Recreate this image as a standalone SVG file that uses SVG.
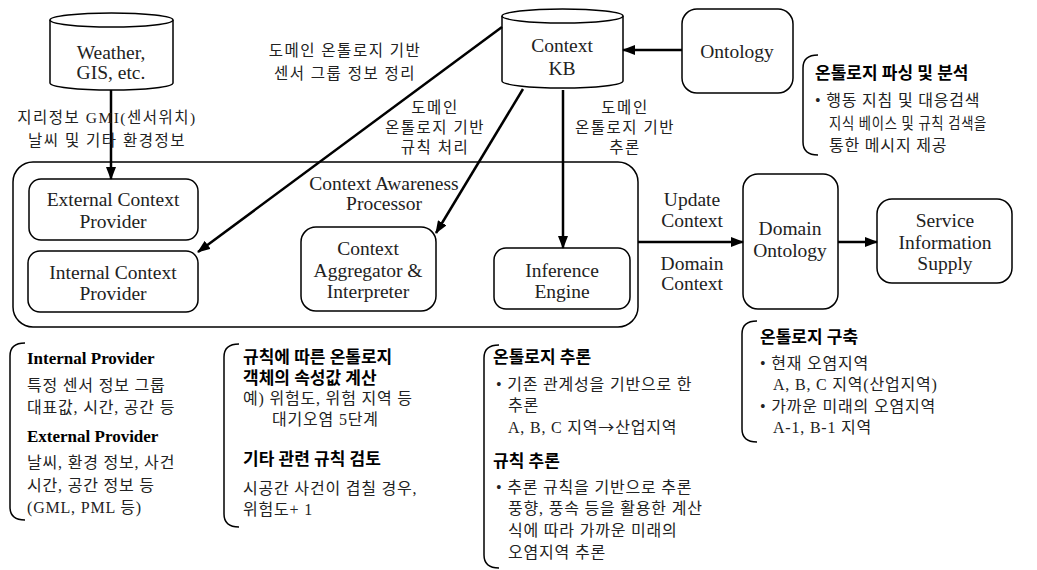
<svg xmlns="http://www.w3.org/2000/svg" width="1037" height="570" viewBox="0 0 1037 570">
<defs>
<marker id="ah" viewBox="0 0 13 10" refX="12" refY="5" markerWidth="13" markerHeight="10" markerUnits="userSpaceOnUse" orient="auto">
<path d="M0,0 L13,5 L0,10 Z" fill="#000"/>
</marker>
<style>
text{font-family:"Liberation Serif","Noto Sans CJK KR",serif;fill:#222}
.en{font-size:19.5px;text-anchor:middle}
.lbl{font-size:15.5px;text-anchor:middle;letter-spacing:1.5px}
.body{font-size:16px;letter-spacing:0.8px}
.ttl{font-size:17px;font-weight:bold;fill:#000}
.arw{font-family:"Noto Sans CJK KR",sans-serif}
.box{fill:#fff;stroke:#000;stroke-width:1.5}
.br{fill:none;stroke:#000;stroke-width:1.5}
.con{fill:none;stroke:#000;stroke-width:2.5;marker-end:url(#ah)}
</style>
</defs>
<rect width="1037" height="570" fill="#fff"/>

<g id="processor">
<rect class="box" x="13" y="162" width="625" height="165" rx="20"/>
<text class="en" x="384" y="190">Context Awareness</text>
<text class="en" x="384" y="210">Processor</text>
</g>

<g id="weather">
<path class="box" d="M50,20 L50,83 A61.5,7 0 0 0 173,83 L173,20"/>
<ellipse class="box" cx="111.5" cy="20" rx="61.5" ry="7"/>
<text class="en" x="111" y="59">Weather,</text>
<text class="en" x="111" y="79">GIS, etc.</text>
</g>

<g id="contextkb">
<path class="box" d="M502,16 L502,81 A60.5,7 0 0 0 623,81 L623,16"/>
<ellipse class="box" cx="562.5" cy="16" rx="60.5" ry="7"/>
<text class="en" x="562" y="52">Context</text>
<text class="en" x="562" y="75">KB</text>
</g>

<g id="ontology">
<rect class="box" x="682" y="9" width="111" height="84" rx="15"/>
<text class="en" x="737" y="58">Ontology</text>
</g>

<g id="external">
<rect class="box" x="29" y="179" width="169" height="61" rx="12"/>
<text class="en" x="113" y="206">External Context</text>
<text class="en" x="113" y="228">Provider</text>
</g>

<g id="internal">
<rect class="box" x="28" y="251" width="170" height="61" rx="12"/>
<text class="en" x="113" y="279">Internal Context</text>
<text class="en" x="113" y="300">Provider</text>
</g>

<g id="aggregator">
<rect class="box" x="301" y="227" width="135" height="84" rx="15"/>
<text class="en" x="368" y="255">Context</text>
<text class="en" x="368" y="277">Aggregator &amp;</text>
<text class="en" x="368" y="298">Interpreter</text>
</g>

<g id="inference">
<rect class="box" x="494" y="248" width="136" height="61" rx="12"/>
<text class="en" x="562" y="277">Inference</text>
<text class="en" x="562" y="298">Engine</text>
</g>

<g id="domain">
<rect class="box" x="743" y="174" width="95" height="135" rx="15"/>
<text class="en" x="790" y="235">Domain</text>
<text class="en" x="790" y="257">Ontology</text>
</g>

<g id="service">
<rect class="box" x="877" y="199" width="135" height="84" rx="15"/>
<text class="en" x="945" y="227">Service</text>
<text class="en" x="945" y="249">Information</text>
<text class="en" x="945" y="270">Supply</text>
</g>

<g id="connectors">
<line class="con" x1="111" y1="90" x2="111" y2="179"/>
<line class="con" x1="682" y1="50" x2="623" y2="50"/>
<line class="con" x1="502" y1="27" x2="198" y2="252"/>
<line class="con" x1="523" y1="89" x2="436" y2="233"/>
<line class="con" x1="563" y1="90" x2="563" y2="248"/>
<line class="con" x1="638" y1="242" x2="743" y2="242"/>
<line class="con" x1="838" y1="242" x2="877" y2="242"/>
</g>

<g id="connector-labels">
<text class="lbl" x="107" y="123">지리정보 GMI(센서위치)</text>
<text class="lbl" x="107" y="146">날씨 및 기타 환경정보</text>
<text class="lbl" x="345" y="56">도메인 온톨로지 기반</text>
<text class="lbl" x="345" y="79">센서 그룹 정보 정리</text>
<text class="lbl" x="435" y="113">도메인</text>
<text class="lbl" x="435" y="133">온톨로지 기반</text>
<text class="lbl" x="435" y="153">규칙 처리</text>
<text class="lbl" x="625" y="113">도메인</text>
<text class="lbl" x="625" y="133">온톨로지 기반</text>
<text class="lbl" x="625" y="153">추론</text>
<text class="en" x="692" y="206">Update</text>
<text class="en" x="692" y="227">Context</text>
<text class="en" x="692" y="270">Domain</text>
<text class="en" x="692" y="290">Context</text>
</g>

<g id="note-parsing">
<path class="br" d="M818,55 Q803,55 803,68 L803,142 Q803,155 818,155"/>
<text class="ttl" x="815" y="79">온톨로지 파싱 및 분석</text>
<text class="body" x="815" y="106">• 행동 지침 및 대응검색</text>
<text class="body" x="829" y="129" textLength="158" lengthAdjust="spacingAndGlyphs">지식 베이스 및 규칙 검색을</text>
<text class="body" x="829" y="151">통한 메시지 제공</text>
</g>

<g id="note-provider">
<path class="br" d="M25,343 Q10,343 10,356 L10,507 Q10,520 25,520"/>
<text class="ttl" x="27" y="364">Internal Provider</text>
<text class="body" x="27" y="391">특정 센서 정보 그룹</text>
<text class="body" x="27" y="413">대표값, 시간, 공간 등</text>
<text class="ttl" x="27" y="442">External Provider</text>
<text class="body" x="27" y="468">날씨, 환경 정보, 사건</text>
<text class="body" x="27" y="491">시간, 공간 정보 등</text>
<text class="body" x="27" y="513">(GML, PML 등)</text>
</g>

<g id="note-rules">
<path class="br" d="M239,344 Q224,344 224,357 L224,514 Q224,527 239,527"/>
<text class="ttl" x="243" y="363">규칙에 따른 온톨로지</text>
<text class="ttl" x="243" y="384">객체의 속성값 계산</text>
<text class="body" x="243" y="404">예) 위험도, 위험 지역 등</text>
<text class="body" x="272" y="425">대기오염 5단계</text>
<text class="ttl" x="243" y="465">기타 관련 규칙 검토</text>
<text class="body" x="243" y="494">시공간 사건이 겹칠 경우,</text>
<text class="body" x="243" y="515">위험도+ 1</text>
</g>

<g id="note-inference">
<path class="br" d="M499,345 Q484,345 484,358 L484,555 Q484,568 499,568"/>
<text class="ttl" x="493" y="363">온톨로지 추론</text>
<text class="body" x="496" y="390">• 기존 관계성을 기반으로 한</text>
<text class="body" x="508" y="411">추론</text>
<text class="body" x="508" y="433">A, B, C 지역<tspan class="arw">→</tspan>산업지역</text>
<text class="ttl" x="493" y="467">규칙 추론</text>
<text class="body" x="496" y="493">• 추론 규칙을 기반으로 추론</text>
<text class="body" x="508" y="514">풍향, 풍속 등을 활용한 계산</text>
<text class="body" x="508" y="536">식에 따라 가까운 미래의</text>
<text class="body" x="508" y="558">오염지역 추론</text>
</g>

<g id="note-build">
<path class="br" d="M757,321 Q742,321 742,334 L742,429 Q742,442 757,442"/>
<text class="ttl" x="760" y="343">온톨로지 구축</text>
<text class="body" x="760" y="369">• 현재 오염지역</text>
<text class="body" x="773" y="390">A, B, C 지역(산업지역)</text>
<text class="body" x="760" y="412">• 가까운 미래의 오염지역</text>
<text class="body" x="773" y="433">A-1, B-1 지역</text>
</g>
</svg>
